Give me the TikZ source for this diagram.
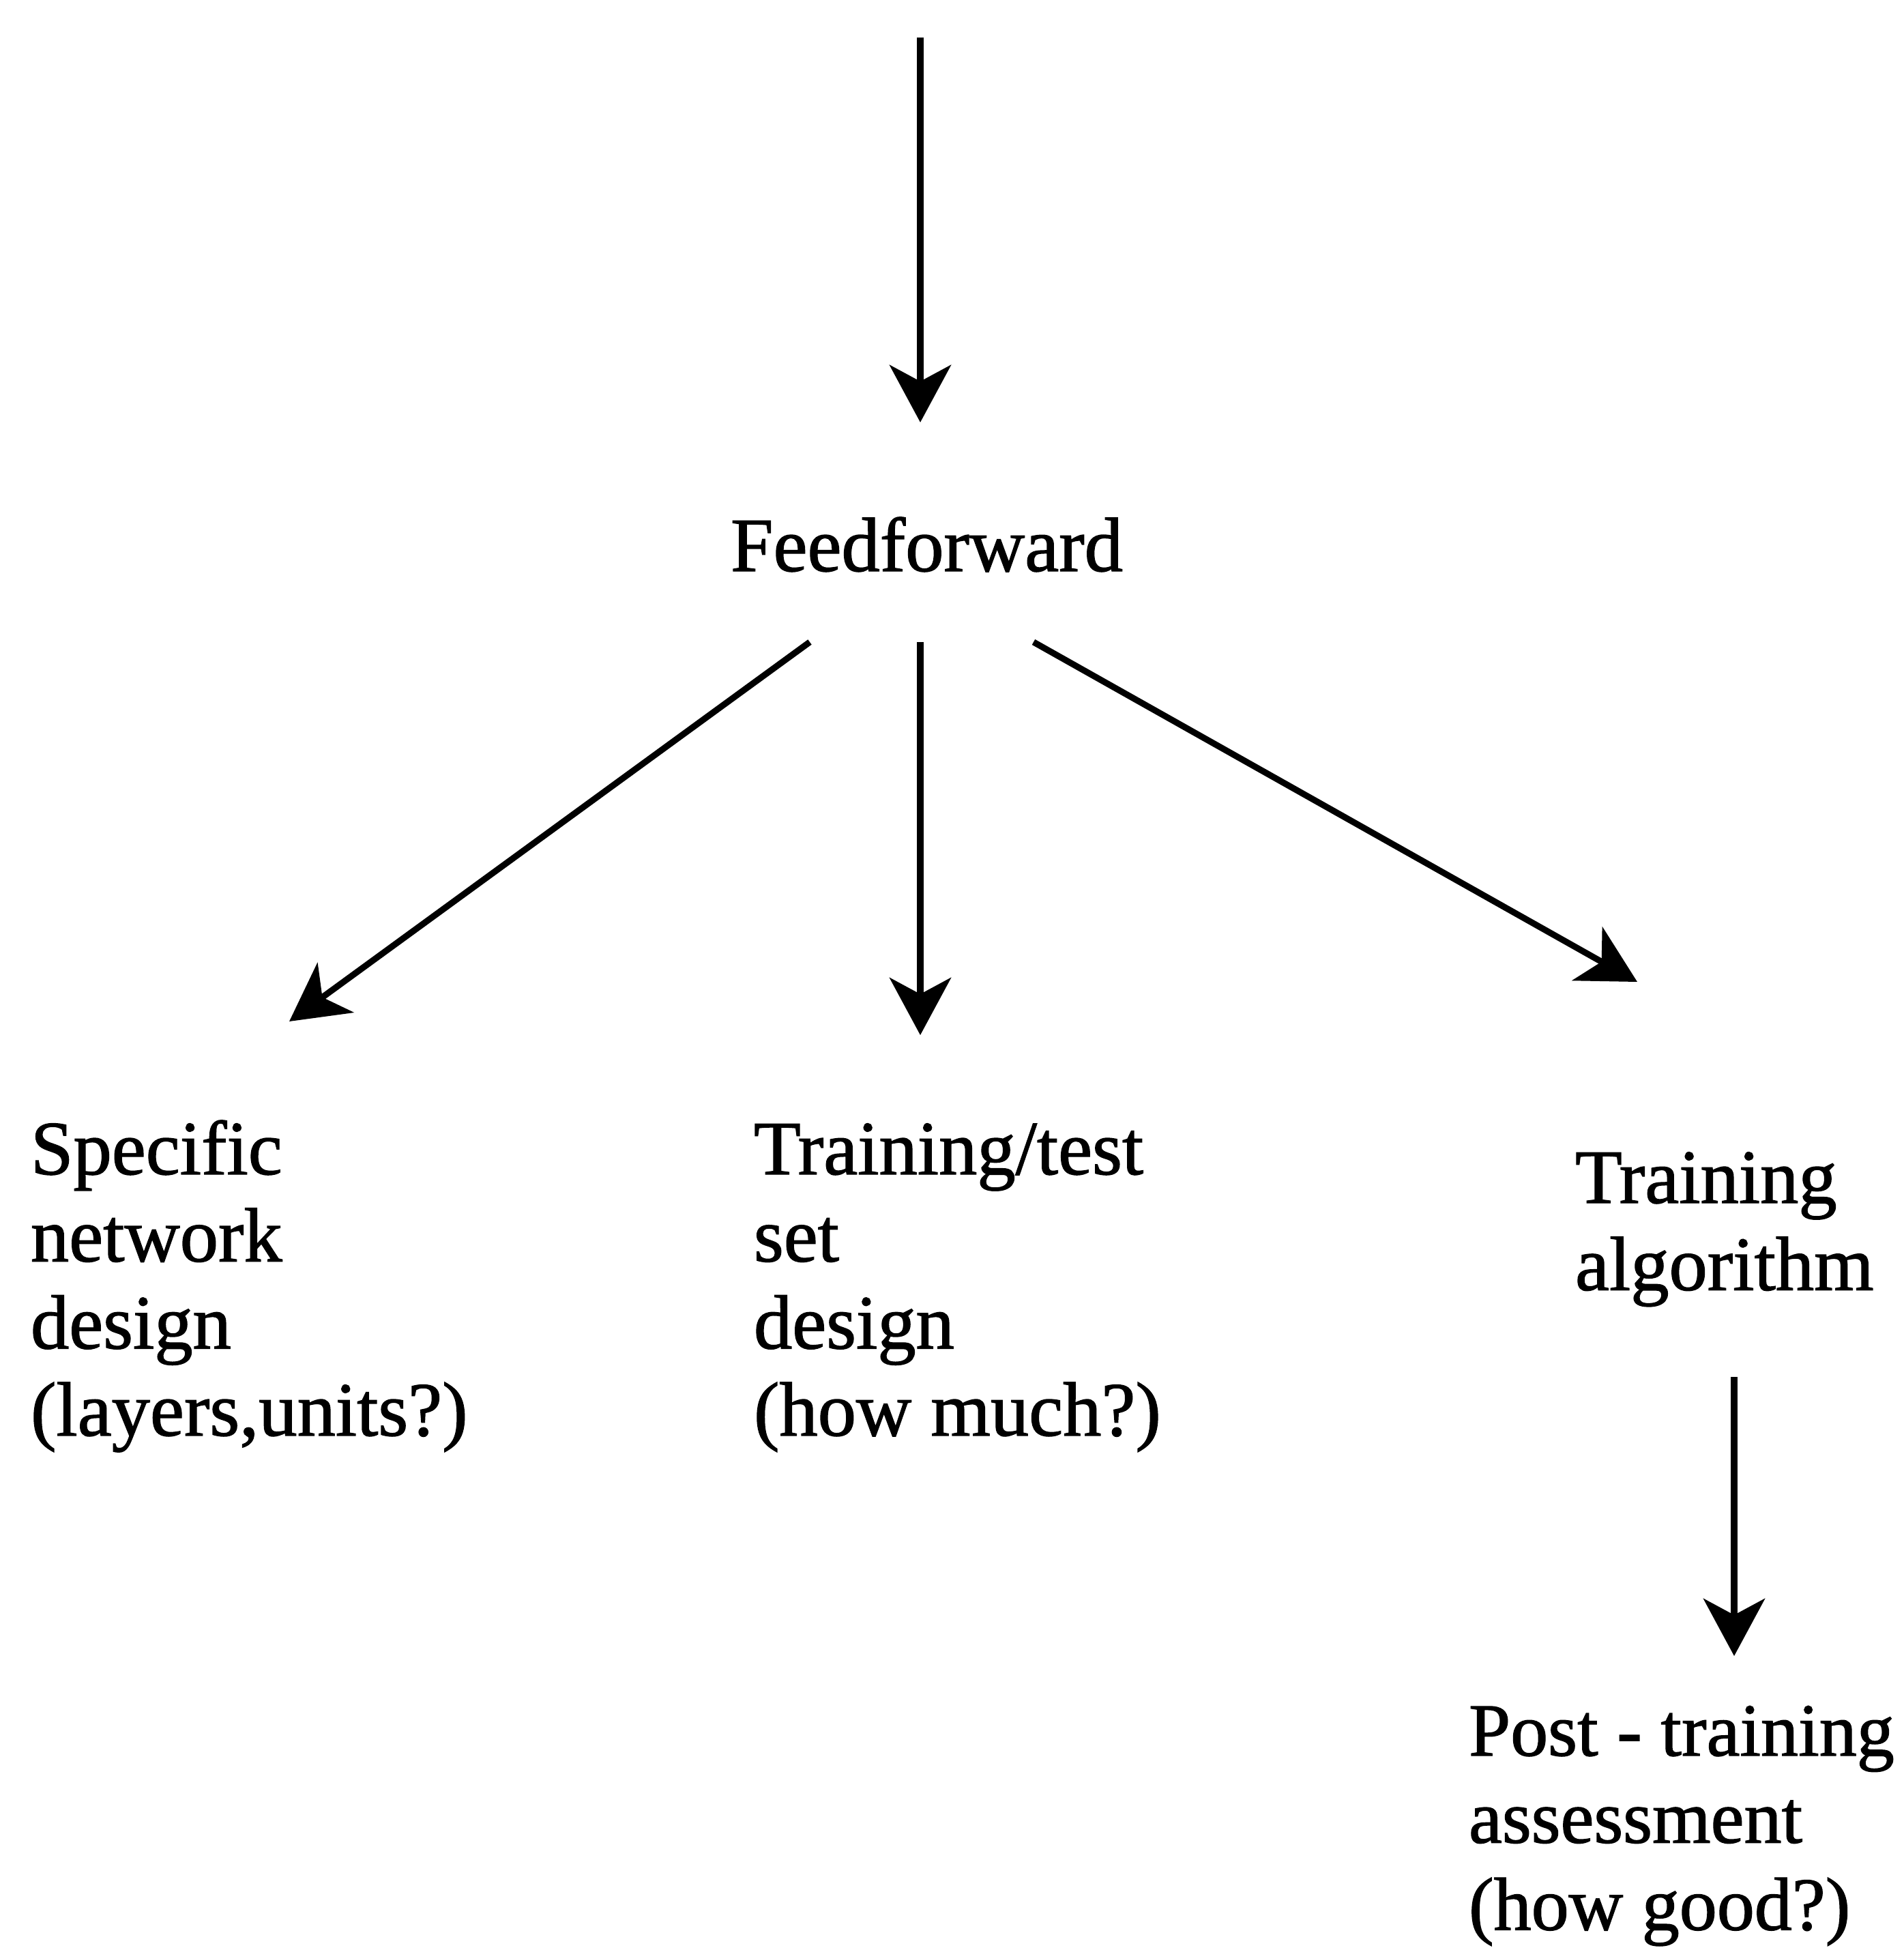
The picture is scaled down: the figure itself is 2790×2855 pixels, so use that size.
\documentclass[tikz,border=0pt]{standalone}
\usepackage{fontspec}
\setmainfont{Liberation Serif}[FakeBold=1.2]
\usetikzlibrary{arrows.meta}
\begin{document}
\begin{tikzpicture}[x=0.01cm,y=-0.01cm,
  lbl/.style={anchor=base west,inner sep=0pt,outer sep=0pt,
    font=\fontsize{32}{36.3}\selectfont},
  arr/.style={line width=2.6pt,
    -{Stealth[length=0.84cm,width=0.9cm,inset=0.24cm]}}]
\useasboundingbox (0,0) rectangle (2790,2855);

% labels, placed by the baseline of their first line
\newcommand{\lines}[1]{\begin{tabular}[t]{@{}l@{}}#1\end{tabular}}
\node[lbl] (ff)   at (1071,837)  {Feedforward};
\node[lbl] (spec) at (45,1721)   {\lines{Specific\\network\\design\\(layers,units?)}};
\node[lbl] (tset) at (1105,1721) {\lines{Training/test\\set\\design\\(how much?)}};
\node[lbl] (talg) at (2309,1763) {\lines{Training\\algorithm}};
\node[lbl,font=\fontsize{31.3}{36.3}\selectfont] (post) at (2153,2573)
  {\lines{Post - training\\assessment\\(how good?)}};

% connector end points
\coordinate (in)    at (1349,55);
\coordinate (ffin)  at (1349,619);
\coordinate (ffL)   at (1187,941);
\coordinate (ffM)   at (1349,941);
\coordinate (ffR)   at (1515,941);
\coordinate (specin) at (424,1497);
\coordinate (tsetin) at (1349,1517);
\coordinate (talgin) at (2400,1439);
\coordinate (talgout) at (2542,2018);
\coordinate (postin) at (2542,2427);

\draw[arr] (in) -- (ffin);
\draw[arr] (ffL) -- (specin);
\draw[arr] (ffM) -- (tsetin);
\draw[arr] (ffR) -- (talgin);
\draw[arr] (talgout) -- (postin);
\end{tikzpicture}
\end{document}
